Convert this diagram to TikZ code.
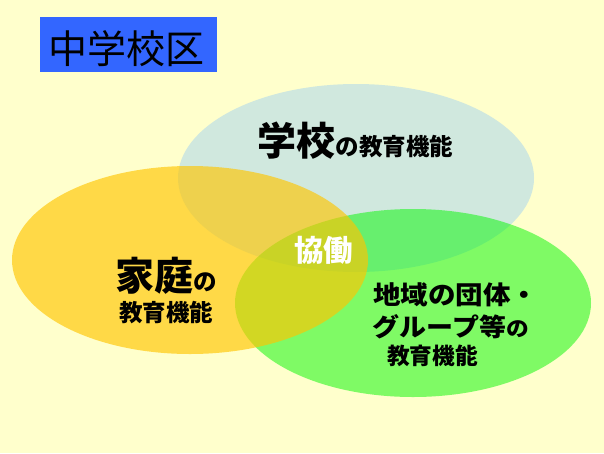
\documentclass[tikz,border=0pt]{standalone}
\usepackage{fontspec}
\newfontfamily\jp{Noto Sans CJK JP}
\newfontfamily\jpw[FakeStretch=1.08]{Noto Sans CJK JP}
\usetikzlibrary{shapes.geometric}
\definecolor{bgc}{RGB}{255,255,204}
\definecolor{titleblue}{RGB}{51,102,255}
\definecolor{schoolc}{RGB}{208,232,222}
\definecolor{homec}{RGB}{255,197,0}
\definecolor{commc}{RGB}{0,247,0}
\tikzset{
  oval/.style={ellipse, draw=none, inner sep=0pt, minimum width=356pt, minimum height=188pt},
  lbl/.style={inner sep=0pt, anchor=base west, font=\jp\bfseries, text=black},
}
\newcommand{\bigtxt}[1]{{\fontsize{39}{39}\selectfont #1}}
\newcommand{\smtxt}[1]{{\fontsize{23.5}{23.5}\selectfont #1}}
\begin{document}
\begin{tikzpicture}[x=1pt,y=-1pt]
\useasboundingbox (0,0) rectangle (604,453);
\fill[bgc] (0,0) rectangle (604,453);
% title
\node[fill=titleblue, inner sep=0pt, minimum width=177pt, minimum height=55pt, anchor=north west] (titlebox) at (40,17) {};
\node[inner sep=0pt, anchor=base west, font=\jp\fontsize{39}{39}\selectfont] (title) at (48.5,63) {中学校区};
% ovals
\node[oval, fill=schoolc] (school) at (356,178) {};
\node[oval, fill=commc, fill opacity=0.5] (comm) at (413,303) {};
\node[oval, fill=homec, fill opacity=0.65] (home) at (190,260) {};
% labels
\node[lbl] (schooltxt) at (257.5,155) {\bigtxt{学校}\smtxt{の教育機能}};
\node[lbl] (hometxt1) at (115.5,290) {\bigtxt{家庭}\smtxt{の}};
\node[lbl, font=\jp\bfseries\fontsize{23.5}{23.5}\selectfont] (hometxt2) at (119,321) {教育機能};
\node[lbl, text=white, font=\jp\bfseries\fontsize{29.5}{29.5}\selectfont] (kyodo) at (294,261) {協働};
\node[lbl, font=\jpw\bfseries\fontsize{25.5}{25.5}\selectfont] (commtxt1) at (373,304) {地域の団体・};
\node[lbl, font=\jpw\bfseries\fontsize{25}{25}\selectfont] (commtxt2) at (372.5,336) {グループ等{\fontsize{21}{21}\selectfont の}};
\node[lbl, font=\jp\bfseries\fontsize{22.7}{22.7}\selectfont] (commtxt3) at (387,364) {教育機能};
\end{tikzpicture}
\end{document}
